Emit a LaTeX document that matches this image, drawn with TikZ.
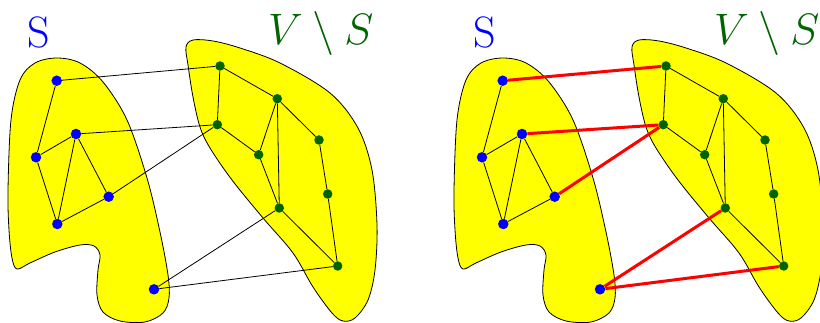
\RequirePackage{fix-cm}
\documentclass[tikz,border=0pt]{standalone}
\usetikzlibrary{positioning}
\definecolor{setS}{HTML}{0000FF}
\definecolor{setV}{HTML}{006400}
\definecolor{region}{HTML}{FFFF00}
\definecolor{cut}{HTML}{FF0000}

\begin{document}
\begin{tikzpicture}[x=1pt, y=-1pt,
    blob/.style={draw=black, fill=region, line width=0.8pt},
    sdot/.style={circle, fill=setS, inner sep=0pt, minimum size=10.5pt},
    vdot/.style={circle, fill=setV, inner sep=0pt, minimum size=9.5pt},
    wire/.style={draw=black, line width=0.8pt},
    cutedge/.style={draw=cut, line width=3pt},
    lbl/.style={font=\fontsize{44}{48}\selectfont, anchor=base west, inner sep=0pt},
  ]
  \clip (0,0) rectangle (820,323);

  \foreach \sh/\p/\cross in {0/L/wire, 446/R/cutedge} {
    \begin{scope}[xshift=\sh pt]
      % the two regions
      \draw[blob] plot[smooth cycle, tension=0.55] coordinates {
        (57,58) (80,63) (103,82) (127,120) (147,178) (160,232) (168,275)
        (169,298) (163,313) (145,322) (120,321) (103,312) (97,295) (98,270)
        (100,255) (94,246) (80,245) (55,252) (30,263) (17,269) (12,258)
        (9,230) (8,190) (11,120) (20,80) (35,63)};
      \draw[blob] plot[smooth cycle, tension=0.55] coordinates {
        (186,47) (193,40) (213,41) (240,48) (280,63) (330,93) (358,128)
        (372,170) (377,225) (375,270) (368,300) (355,318) (343,321)
        (332,313) (313,287) (293,253) (263,218) (232,180) (210,148)
        (200,127) (193,97) (188,65)};

      % labels
      \node[lbl, text=setS] (\p-lS) at (27,48) {S};
      \node[lbl, text=setV] (\p-lV) at (268,45) {$V\setminus S$};

      % vertices of S
      \node[sdot] (\p-a1) at (56.7,80.7) {};
      \node[sdot] (\p-a2) at (76,134) {};
      \node[sdot] (\p-a3) at (36,157.3) {};
      \node[sdot] (\p-a4) at (108.7,196.7) {};
      \node[sdot] (\p-a5) at (57.3,224) {};
      \node[sdot] (\p-a6) at (154,289.3) {};

      % vertices of V minus S
      \node[vdot] (\p-b1) at (220,66) {};
      \node[vdot] (\p-b2) at (277.3,98.7) {};
      \node[vdot] (\p-b3) at (217.3,124.7) {};
      \node[vdot] (\p-b4) at (319,140) {};
      \node[vdot] (\p-b5) at (258.7,154.7) {};
      \node[vdot] (\p-b6) at (327.7,194) {};
      \node[vdot] (\p-b7) at (279.3,208) {};
      \node[vdot] (\p-b8) at (337.7,266) {};

      % edges inside each side
      \draw[wire] (\p-a1) -- (\p-a3) -- (\p-a5) -- (\p-a4) -- (\p-a2) -- (\p-a3);
      \draw[wire] (\p-a2) -- (\p-a5);
      \draw[wire] (\p-b3) -- (\p-b1) -- (\p-b2) -- (\p-b4) -- (\p-b6) -- (\p-b8) -- (\p-b7) -- (\p-b5) -- (\p-b3);
      \draw[wire] (\p-b5) -- (\p-b2) -- (\p-b7);

      % edges across the cut
      \draw[\cross] (\p-a1) -- (\p-b1);
      \draw[\cross] (\p-a2) -- (\p-b3);
      \draw[\cross] (\p-a4) -- (\p-b3);
      \draw[\cross] (\p-a6) -- (\p-b7);
      \draw[\cross] (\p-a6) -- (\p-b8);
    \end{scope}
  }
\end{tikzpicture}
\end{document}
